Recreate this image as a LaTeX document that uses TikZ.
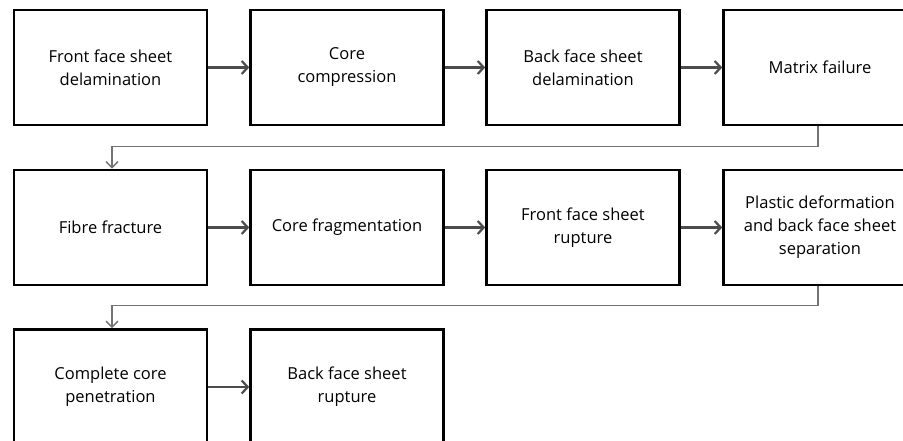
\documentclass[tikz,border=0pt]{standalone}
\usepackage{fontspec}
\setmainfont{Open Sans}
\usetikzlibrary{arrows.meta}

\tikzset{
  stagebox/.style={draw=black, line width=2.6pt, minimum width=193pt, minimum height=115pt,
    align=center, inner sep=2pt, font=\fontsize{16.5}{23}\selectfont},
  flowarrow/.style={draw=black!70, line width=2.2pt, -{Straight Barb[length=6pt,width=13pt]}},
  returnline/.style={draw=black!55, line width=1.4pt, -{Straight Barb[length=6pt,width=12pt]}}
}

\begin{document}
\begin{tikzpicture}[x=1pt,y=-1pt]
    \useasboundingbox (0,0) rectangle (903,441);
    \clip (0,0) rectangle (903,441);
    % first row
    \node[stagebox] (ffdelam) at (110.5,67.5) {Front face sheet\\delamination};
    \node[stagebox] (corecomp) at (347,67.5) {Core\\compression};
    \node[stagebox] (bfdelam) at (583,67.5) {Back face sheet\\delamination};
    \node[stagebox] (matrix) at (820,67.5) {Matrix failure};
    % second row
    \node[stagebox] (fibre) at (110.5,227.5) {Fibre fracture};
    \node[stagebox] (corefrag) at (347,227.5) {Core fragmentation};
    \node[stagebox] (ffrupt) at (583,227.5) {Front face sheet\\rupture};
    \node[stagebox] (plastic) at (820,227.5) {Plastic deformation\\and back face sheet\\separation};
    % third row
    \node[stagebox] (corepen) at (110.5,387) {Complete core\\penetration};
    \node[stagebox] (bfrupt) at (347,387) {Back face sheet\\rupture};

    \draw[flowarrow] (ffdelam) -- (corecomp);
    \draw[flowarrow] (corecomp) -- (bfdelam);
    \draw[flowarrow] (bfdelam) -- (matrix);
    \draw[returnline] ([xshift=-2pt]matrix.south) -- ++(0,20) -| ([xshift=1.5pt]fibre.north);
    \draw[flowarrow] (fibre) -- (corefrag);
    \draw[flowarrow] (corefrag) -- (ffrupt);
    \draw[flowarrow] (ffrupt) -- (plastic);
    \draw[returnline] ([xshift=-2pt]plastic.south) -- ++(0,19) -| ([xshift=1.5pt]corepen.north);
    \draw[flowarrow] (corepen) -- (bfrupt);
  \end{tikzpicture}
\end{document}
